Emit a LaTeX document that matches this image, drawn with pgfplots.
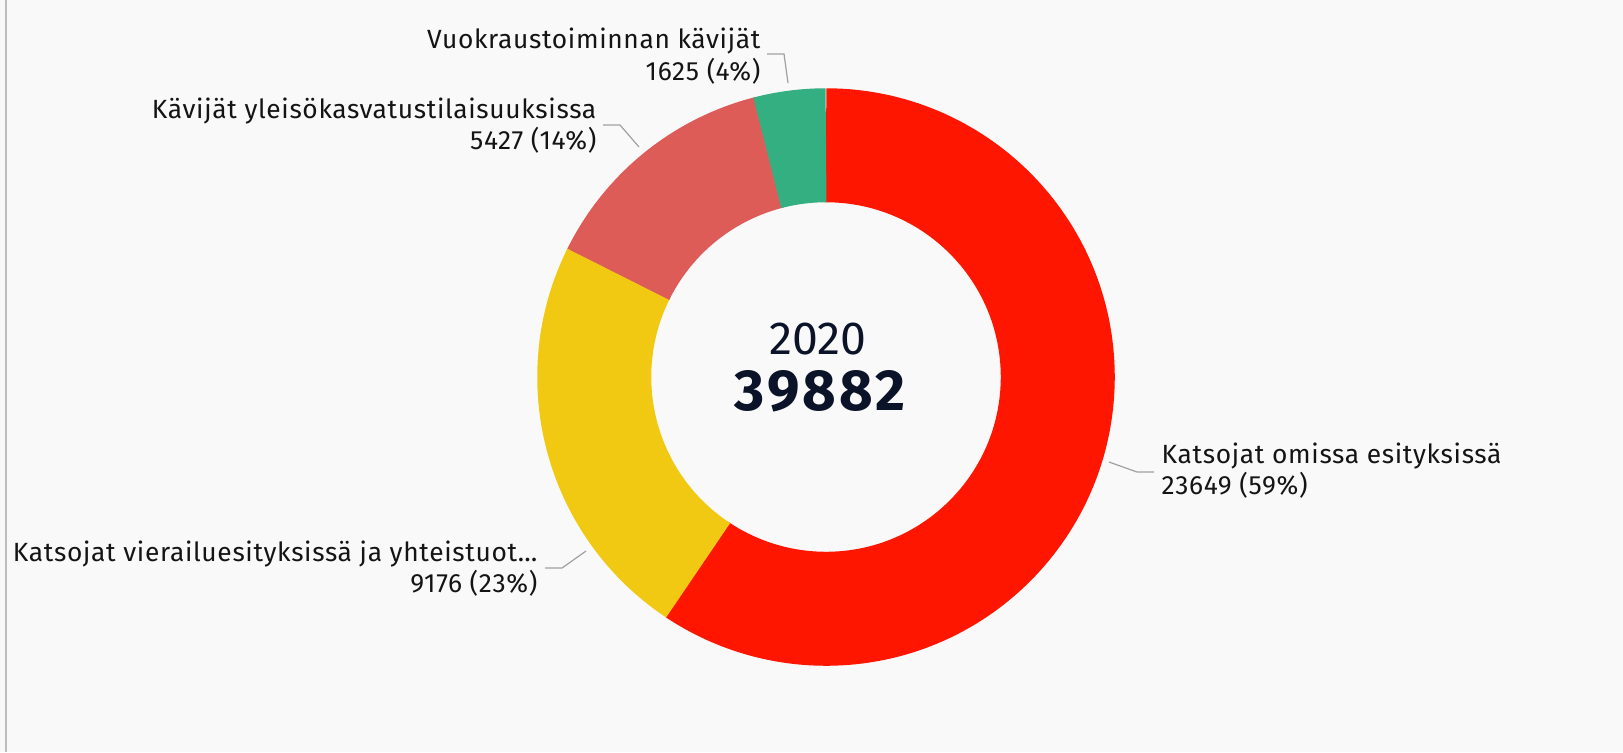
\documentclass[border=0pt]{standalone}
\usepackage{pgfplots}
\pgfplotsset{compat=1.18}
\usepackage{pgfplotstable}
\usepackage{fontspec}
\setmainfont{Fira Sans}
\newfontfamily\labfont[LetterSpace=2.5]{Fira Sans}
\newfontfamily\bigfont[LetterSpace=5]{Fira Sans}

\definecolor{cred}{HTML}{FF1600}
\definecolor{cyellow}{HTML}{F2C912}
\definecolor{csalmon}{HTML}{DD5C58}
\definecolor{cgreen}{HTML}{34AF82}
\definecolor{cnavy}{HTML}{0B1328}
\definecolor{clab}{HTML}{141414}
\definecolor{cbg}{HTML}{F9F9F9}
\definecolor{cborder}{HTML}{BDBDBD}
\definecolor{clead}{HTML}{A0A0A0}

\pgfplotstableread[col sep=comma]{
name,value
Katsojat omissa esityksissä,23649
Katsojat vierailuesityksissä ja yhteistuotannoissa,9176
Kävijät yleisökasvatustilaisuuksissa,5427
Vuokraustoiminnan kävijät,1625
}\datatable

\pgfplotstablegetelem{0}{value}\of\datatable \edef\vA{\pgfplotsretval}
\pgfplotstablegetelem{1}{value}\of\datatable \edef\vB{\pgfplotsretval}
\pgfplotstablegetelem{2}{value}\of\datatable \edef\vC{\pgfplotsretval}
\pgfplotstablegetelem{3}{value}\of\datatable \edef\vD{\pgfplotsretval}
\edef\tot{\fpeval{\vA+\vB+\vC+\vD}}
\edef\aO{90}
\edef\aA{\fpeval{round(\aO-360*\vA/\tot,3)}}
\edef\aB{\fpeval{round(\aA-360*\vB/\tot,3)}}
\edef\aC{\fpeval{round(\aB-360*\vC/\tot,3)}}
\edef\aD{\fpeval{round(\aC-360*\vD/\tot,3)}}
% small overlap to hide antialiasing seams
\edef\eA{\fpeval{\aA-0.5}}
\edef\eB{\fpeval{\aB-0.5}}
\edef\eC{\fpeval{\aC-0.5}}

\newcommand\lab{\labfont\fontsize{7.5pt}{8pt}\selectfont\color{clab}}

\begin{document}
\begin{tikzpicture}
\begin{axis}[
  scale only axis, width=16.23cm, height=7.52cm,
  xmin=0, xmax=1623, ymin=0, ymax=752, y dir=reverse,
  hide axis, clip=false,
]
% background and left border
\fill[cbg] (axis cs:0,0) rectangle (axis cs:1623,752);
\draw[cborder, line width=0.02cm] (axis cs:5.8,0) -- (axis cs:5.8,752);
% donut ring
\def\cx{826}\def\cy{377}
\draw[line width=1.14cm, cred] ([shift={(\aO:2.3175cm)}]axis cs:\cx,\cy) arc[start angle=\aO, end angle=\eA, radius=2.3175cm];
\draw[line width=1.14cm, cyellow] ([shift={(\aA:2.3175cm)}]axis cs:\cx,\cy) arc[start angle=\aA, end angle=\eB, radius=2.3175cm];
\draw[line width=1.14cm, csalmon] ([shift={(\aB:2.3175cm)}]axis cs:\cx,\cy) arc[start angle=\aB, end angle=\eC, radius=2.3175cm];
\draw[line width=1.14cm, cgreen] ([shift={(\aC:2.3175cm)}]axis cs:\cx,\cy) arc[start angle=\aC, end angle=\aD, radius=2.3175cm];
% leader lines
\draw[clead, line width=0.012cm] (axis cs:1109,462) -- (axis cs:1137,472) -- (axis cs:1154,472);
\draw[clead, line width=0.012cm] (axis cs:545,568) -- (axis cs:562,568) -- (axis cs:586,551);
\draw[clead, line width=0.012cm] (axis cs:603,125) -- (axis cs:620,125) -- (axis cs:639,147);
\draw[clead, line width=0.012cm] (axis cs:767,54) -- (axis cs:784,54) -- (axis cs:788,83);
% labels
\node[anchor=base west, inner sep=0pt] at (axis cs:1161,463) {\lab Katsojat omissa esityksissä};
\node[anchor=base west, inner sep=0pt] at (axis cs:1161,494) {\lab 23649 (59\%)};
\node[anchor=base east, inner sep=0pt] at (axis cs:538,561) {\lab Katsojat vierailuesityksissä ja yhteistuot…};
\node[anchor=base east, inner sep=0pt] at (axis cs:538,592) {\lab 9176 (23\%)};
\node[anchor=base east, inner sep=0pt] at (axis cs:597,118) {\lab Kävijät yleisökasvatustilaisuuksissa};
\node[anchor=base east, inner sep=0pt] at (axis cs:597,149) {\lab 5427 (14\%)};
\node[anchor=base east, inner sep=0pt] at (axis cs:761,48) {\lab Vuokraustoiminnan kävijät};
\node[anchor=base east, inner sep=0pt] at (axis cs:761,80) {\lab 1625 (4\%)};
% centre
\node[anchor=base, inner sep=0pt, text=cnavy] at (axis cs:818,354) {\fontsize{13.2pt}{14pt}\selectfont 2020};
\node[anchor=base, inner sep=0pt, text=cnavy] at (axis cs:820,410) {\bigfont\fontsize{16.5pt}{17pt}\selectfont\bfseries 39882};
\end{axis}
\pgfresetboundingbox
\path[use as bounding box] (0,0) rectangle (16.23,7.52);
\end{tikzpicture}
\end{document}
